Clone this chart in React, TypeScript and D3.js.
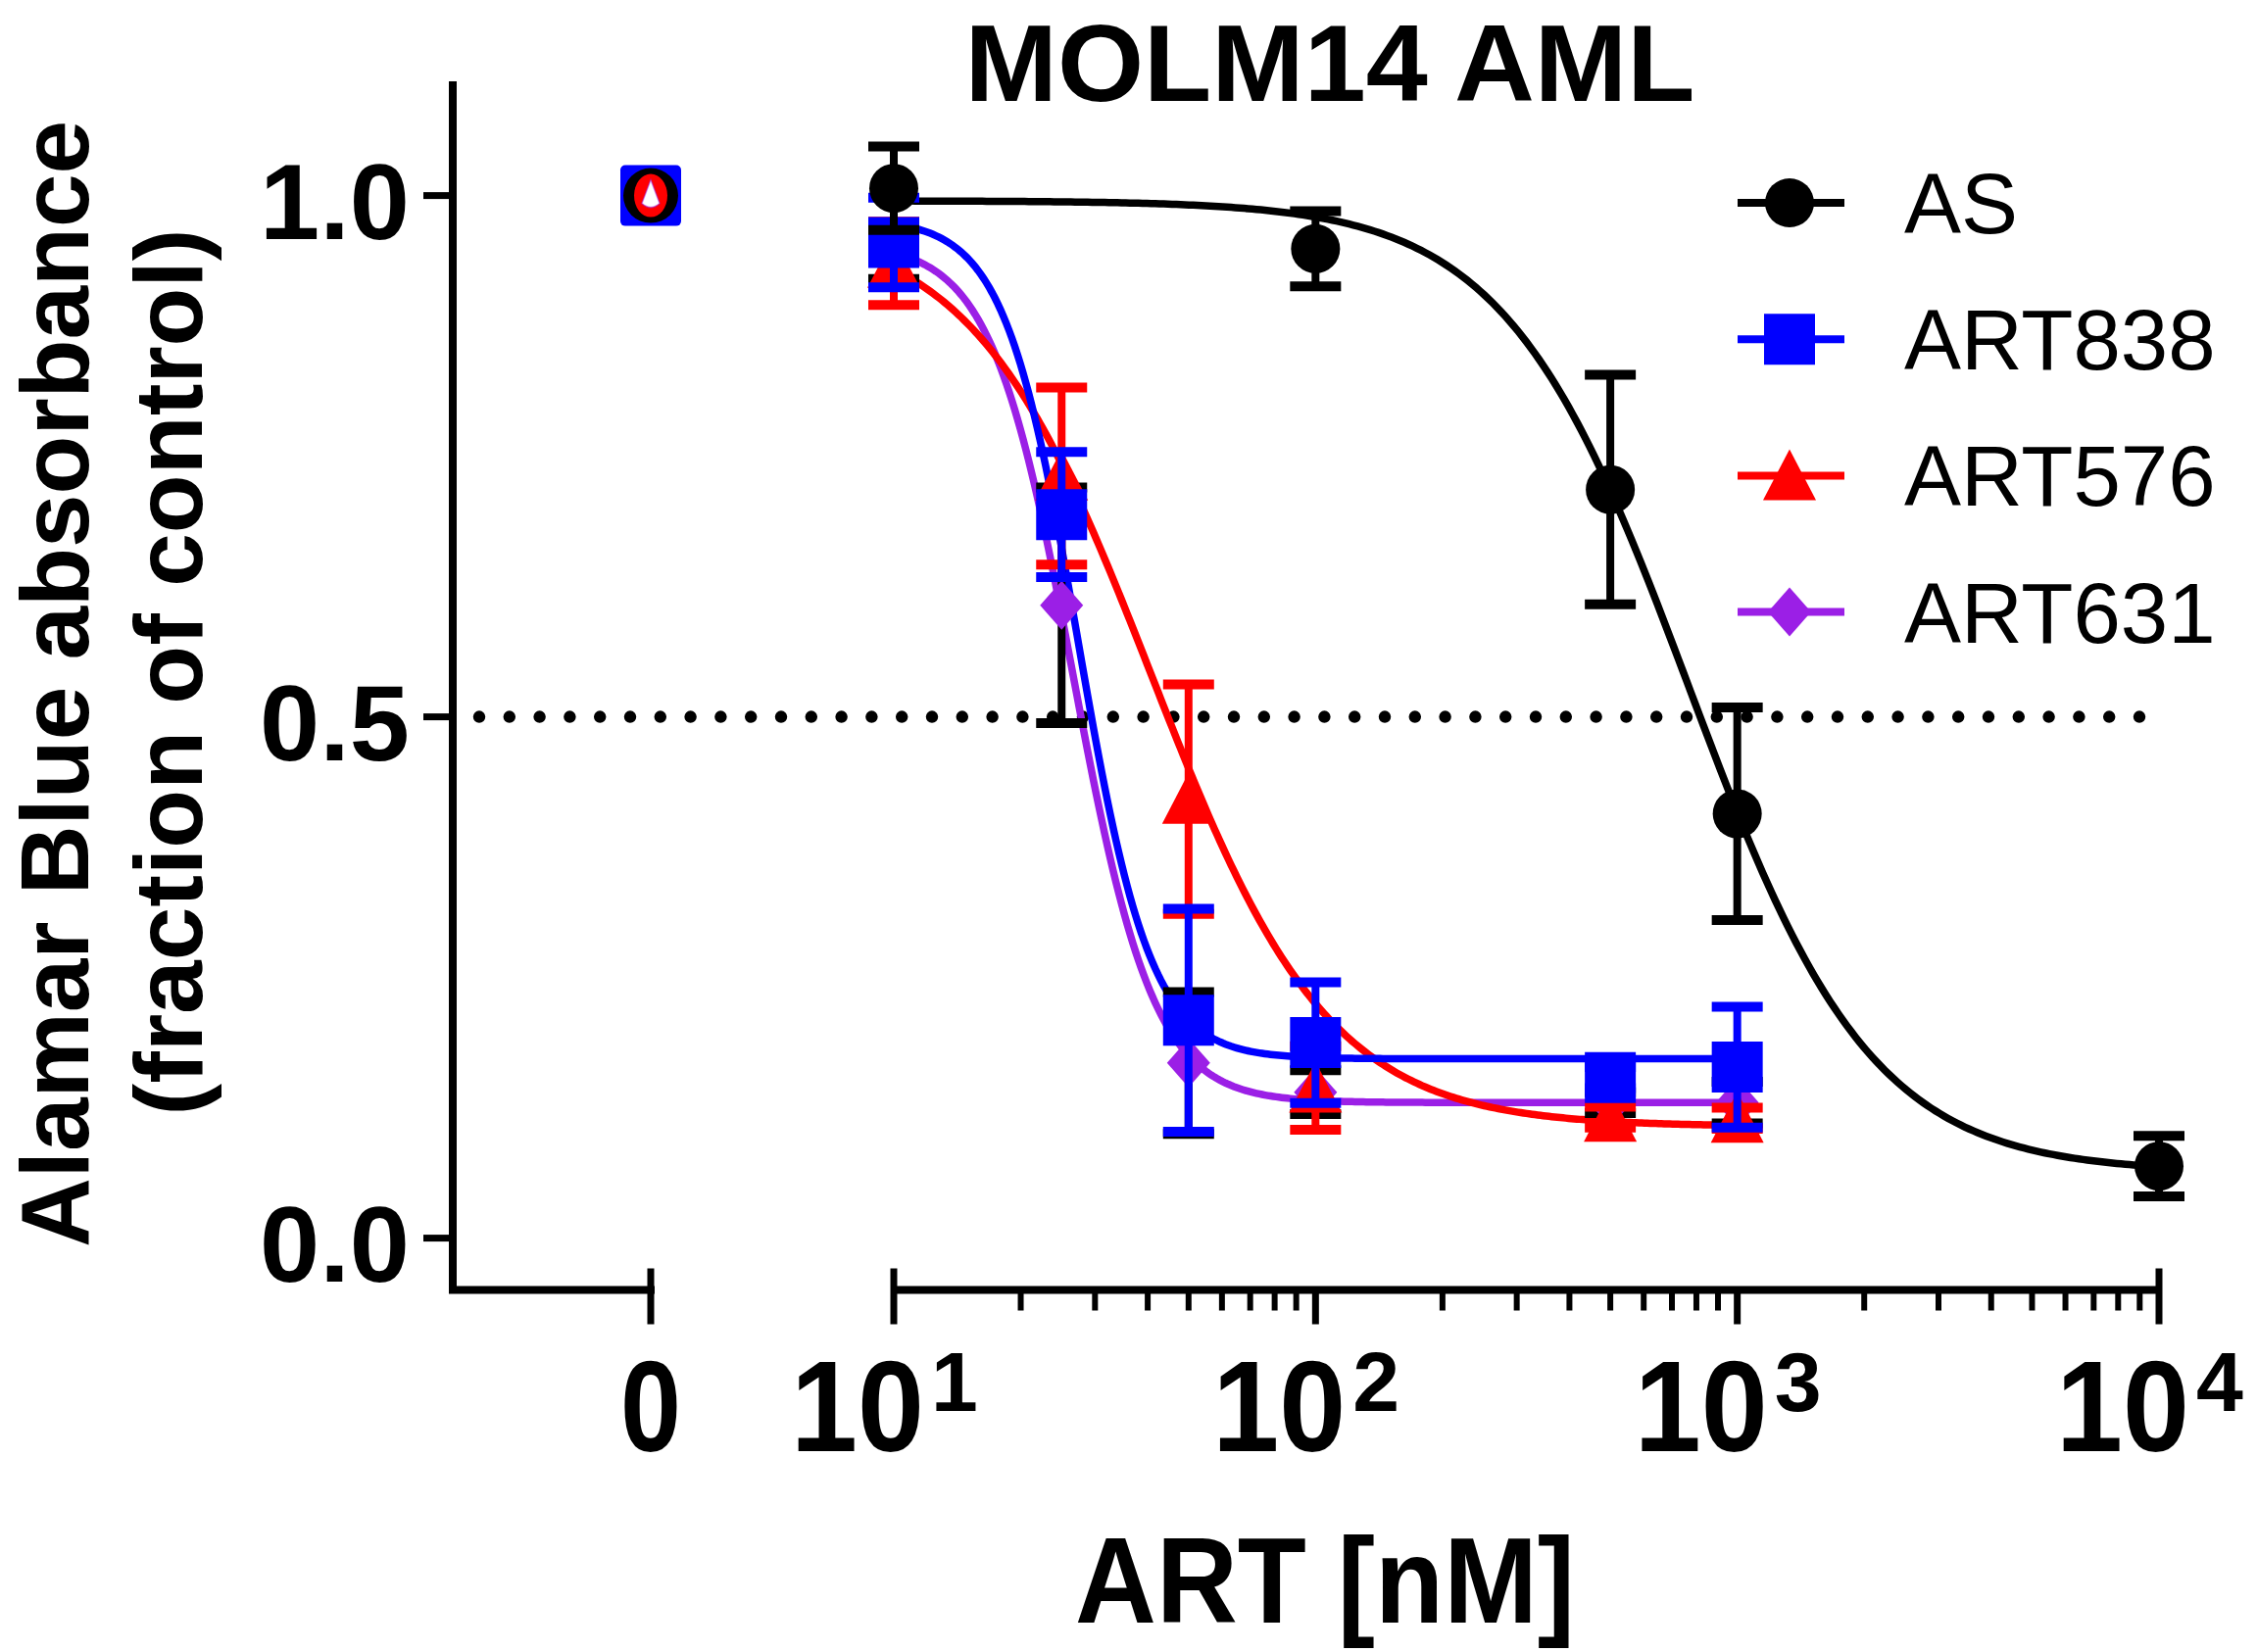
import * as d3 from 'd3';

// Series
const seriesNames = ['AS', 'ART838', 'ART576', 'ART631'];
const seriesColors = ['#000000', '#0000ff', '#ff0000', '#9b1fe6'];
const errorColors = ['#000000', '#0000ff', '#ff0000', '#000000'];
const seriesShapes = ['circle', 'square', 'triangle', 'diamond'];

const asConc = [10, 100, 500, 1000, 10000];
const asMean = [1.007, 0.949, 0.718, 0.407, 0.069];
const asSem = [0.04, 0.036, 0.11, 0.102, 0.029];

const artConc = [10, 25, 50, 100, 500, 1000];
const art838Mean = [0.955, 0.694, 0.209, 0.1875, 0.154, 0.164];
const art838Sem = [0.043, 0.06, 0.107, 0.058, 0.01, 0.058];
const art576Mean = [0.935, 0.731, 0.421, 0.144, 0.116, 0.115];
const art576Sem = [0.04, 0.085, 0.11, 0.04, 0.01, 0.01];
const art631Mean = [0.945, 0.607, 0.168, 0.14, 0.13, 0.13];
const art631Sem = [0.025, 0.113, 0.068, 0.021, 0.01, 0.02];

// untreated control (plotted on the "0" segment)
const zeroMean = [1.0, 1.0, 1.0, 1.0];

// 4-parameter logistic fit parameters, estimated from the drawn curves
const fitTop = [0.995, 0.978, 0.975, 0.955];
const fitBottom = [0.063, 0.172, 0.107, 0.13];
const fitLogIC50 = [2.885, 1.436, 1.61, 1.424];
const fitHill = [2.0, 5.0, 2.06, 4.5];

const yTicks = [0, 0.5, 1.0];
const yTickLabels = ['0.0', '0.5', '1.0'];
const xDecades = [10, 100, 1000, 10000];
const xDecadeExp = ['1', '2', '3', '4'];
const halfLine = 0.5;

const FONT = "'Liberation Sans', Arial, Helvetica, sans-serif";

const series = [
  { conc: asConc, mean: asMean, sem: asSem },
  { conc: artConc, mean: art838Mean, sem: art838Sem },
  { conc: artConc, mean: art576Mean, sem: art576Sem },
  { conc: artConc, mean: art631Mean, sem: art631Sem },
];

function markerPath(shape: string) {
  switch (shape) {
    case 'circle':
      return d3.symbol(d3.symbolCircle, Math.PI * 25 * 25)() as string;
    case 'square':
      return 'M-26,-26H26V26H-26Z';
    case 'triangle':
      return 'M0,-27L27,25H-27Z';
    default:
      return 'M0,-25L22,0L0,25L-22,0Z';
  }
}

export default function App() {
  const W = 2303;
  const H = 1686;

  const xLog = d3.scaleLog().domain([10, 10000]).range([912, 2203]);
  const xZero = d3.scaleLinear().domain([-1, 0]).range([462, 664]);
  const y = d3.scaleLinear().domain([0, 1]).range([1263.6, 199.6]);
  const axisY = 1316.5;
  const axisX = xZero(-1);

  const fit = (i: number, c: number) =>
    fitBottom[i] + (fitTop[i] - fitBottom[i]) / (1 + Math.pow(10, (Math.log10(c) - fitLogIC50[i]) * fitHill[i]));

  const curvePath = (i: number) => {
    const cs = series[i].conc;
    const lo = Math.log10(cs[0]);
    const hi = Math.log10(cs[cs.length - 1]);
    const samples = d3.range(0, 301).map((k) => Math.pow(10, lo + ((hi - lo) * k) / 300));
    return d3
      .line<number>()
      .x((c) => xLog(c))
      .y((c) => y(fit(i, c)))(samples) as string;
  };

  const minorTicks = xLog.ticks().filter((t) => !xDecades.includes(t));
  const drawOrder = [3, 2, 1, 0];
  const capW = 52;

  return (
    <svg
      width={W}
      height={H}
      style={{ position: 'absolute', left: 0, top: 0, background: '#fff' }}
      fontFamily={FONT}
    >
      <rect width={W} height={H} fill="#fff" />

      {/* Title */}
      <text x={1357} y={103} textAnchor="middle" fontSize={112} fontWeight="bold" textLength={745} lengthAdjust="spacingAndGlyphs">
        MOLM14 AML
      </text>

      {/* Y axis label */}
      <g transform="translate(90,698) rotate(-90)">
        <text x={0} y={0} textAnchor="middle" fontSize={98} fontWeight="bold" textLength={1150} lengthAdjust="spacingAndGlyphs">
          Alamar Blue absorbance
        </text>
      </g>
      <g transform="translate(206,686) rotate(-90)">
        <text x={0} y={0} textAnchor="middle" fontSize={98} fontWeight="bold" textLength={905} lengthAdjust="spacingAndGlyphs">
          (fraction of control)
        </text>
      </g>

      {/* Axes */}
      <g stroke="#000" strokeWidth={8} fill="none" strokeLinecap="square">
        <path d={`M${axisX},87V${axisY}H${xZero(0)}`} />
        <path d={`M${xLog(10)},${axisY}H${xLog(10000)}`} strokeLinecap="butt" />
      </g>
      <g stroke="#000" strokeWidth={7}>
        {yTicks.map((t) => (
          <line key={t} x1={axisX - 30} x2={axisX} y1={y(t)} y2={y(t)} />
        ))}
        <line x1={xZero(0)} x2={xZero(0)} y1={axisY - 22} y2={axisY + 35} />
        {xDecades.map((d, i) => (
          <line
            key={d}
            x1={xLog(d)}
            x2={xLog(d)}
            y1={i === 0 || i === xDecades.length - 1 ? axisY - 22 : axisY}
            y2={axisY + 35}
          />
        ))}
        {minorTicks.map((t) => (
          <line key={t} x1={xLog(t)} x2={xLog(t)} y1={axisY} y2={axisY + 21} strokeWidth={6} />
        ))}
      </g>

      {/* Y tick labels */}
      {yTicks.map((t, i) => (
        <text key={t} x={418} y={y(t) + 44} textAnchor="end" fontSize={110} fontWeight="bold">
          {yTickLabels[i]}
        </text>
      ))}

      {/* X tick labels */}
      <text x={xZero(0)} y={1481} textAnchor="middle" fontSize={132} fontWeight="bold" textLength={62} lengthAdjust="spacingAndGlyphs">
        0
      </text>
      {xDecades.map((d, i) => (
        <g key={d}>
          <text x={xLog(d) + 31} y={1481} textAnchor="end" fontSize={132} fontWeight="bold" textLength={136} lengthAdjust="spacingAndGlyphs">
            10
          </text>
          <text x={xLog(d) + 38} y={1440} textAnchor="start" fontSize={86} fontWeight="bold">
            {xDecadeExp[i]}
          </text>
        </g>
      ))}

      {/* X axis title */}
      <text x={1352} y={1656} textAnchor="middle" fontSize={125} fontWeight="bold" textLength={510} lengthAdjust="spacingAndGlyphs">
        ART [nM]
      </text>

      {/* 50% reference line */}
      <line
        x1={axisX + 27}
        x2={xLog(10000)}
        y1={y(halfLine)}
        y2={y(halfLine)}
        stroke="#000"
        strokeWidth={12.5}
        strokeLinecap="round"
        strokeDasharray="0 30.8"
      />

      {/* Fitted curves */}
      {drawOrder.map((i) => (
        <path key={i} d={curvePath(i)} fill="none" stroke={seriesColors[i]} strokeWidth={7.5} />
      ))}

      {/* Error bars and markers */}
      {drawOrder.map((i) => (
        <g key={i}>
          {series[i].conc.map((c, k) => {
            const cx = xLog(c);
            const m = series[i].mean[k];
            const e = series[i].sem[k];
            return (
              <g key={c} stroke={errorColors[i]}>
                <line x1={cx} x2={cx} y1={y(m + e)} y2={y(m - e)} strokeWidth={8} />
                <line x1={cx - capW / 2} x2={cx + capW / 2} y1={y(m + e)} y2={y(m + e)} strokeWidth={10} />
                <line x1={cx - capW / 2} x2={cx + capW / 2} y1={y(m - e)} y2={y(m - e)} strokeWidth={10} />
              </g>
            );
          })}
          {series[i].conc.map((c, k) => (
            <path
              key={c}
              d={markerPath(seriesShapes[i])}
              transform={`translate(${xLog(c)},${y(series[i].mean[k])})`}
              fill={seriesColors[i]}
            />
          ))}
        </g>
      ))}

      {/* Stacked control markers at 0 */}
      <rect x={xZero(0) - 31} y={y(zeroMean[1]) - 31} width={62} height={62} rx={5} fill={seriesColors[1]} />
      <circle cx={xZero(0)} cy={y(zeroMean[0])} r={28} fill={seriesColors[0]} />
      <ellipse cx={xZero(0)} cy={y(zeroMean[2])} rx={17} ry={22} fill={seriesColors[2]} />
      <path
        d="M0,-16L9,8Q0,16 -9,8Z"
        transform={`translate(${xZero(0)},${y(zeroMean[3])})`}
        fill="#fff"
        stroke={seriesColors[3]}
        strokeWidth={1.5}
        strokeOpacity={0.5}
      />

      {/* Legend */}
      {seriesNames.map((name, i) => {
        const ly = 207 + i * 139.2;
        return (
          <g key={name}>
            <line x1={1773} x2={1882} y1={ly} y2={ly} stroke={seriesColors[i]} strokeWidth={8} />
            <path d={markerPath(seriesShapes[i])} transform={`translate(1826,${ly})`} fill={seriesColors[i]} />
            <text x={1943} y={ly + 31} fontSize={87}>
              {name}
            </text>
          </g>
        );
      })}
    </svg>
  );
}
